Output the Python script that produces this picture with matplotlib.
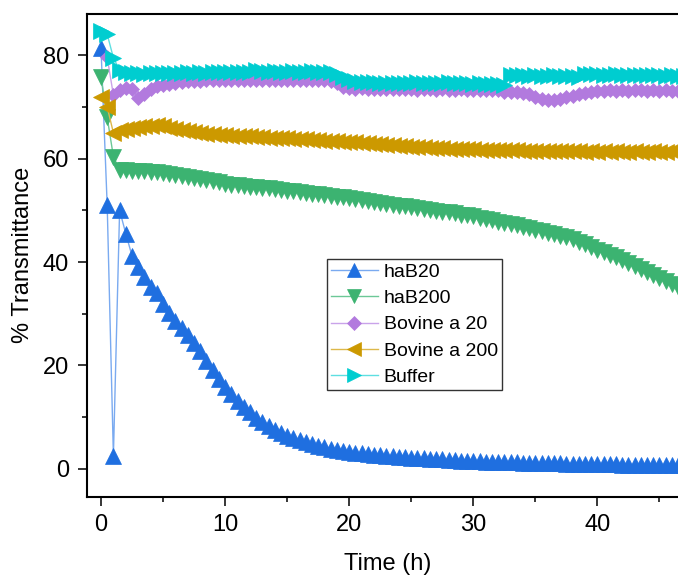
import numpy as np
from matplotlib import pyplot as plt
from matplotlib.ticker import MultipleLocator

# sampling every half hour
time_h = np.arange(0, 47.5, 0.5)

haB20 = [
    81.5, 51.0, 2.5, 50.0, 45.5, 41.2, 39.0, 37.2, 35.1, 34.0,
    31.9, 30.1, 28.5, 27.2, 25.9, 24.3, 22.7, 20.8, 19.1, 17.4,
    15.9, 14.5, 13.2, 12.0, 10.9, 9.9, 9.0, 8.3, 7.6, 7.0,
    6.4, 5.9, 5.5, 5.1, 4.8, 4.5, 4.2, 3.9, 3.7, 3.5,
    3.3, 3.1, 3.0, 2.8, 2.7, 2.6, 2.5, 2.4, 2.3, 2.2,
    2.1, 2.0, 2.0, 1.9, 1.8, 1.8, 1.7, 1.7, 1.6, 1.6,
    1.5, 1.5, 1.4, 1.4, 1.4, 1.3, 1.3, 1.3, 1.2, 1.2,
    1.2, 1.1, 1.1, 1.1, 1.1, 1.0, 1.0, 1.0, 1.0, 0.9,
    0.9, 0.9, 0.9, 0.9, 0.8, 0.8, 0.8, 0.8, 0.8, 0.8,
    0.7, 0.7, 0.7, 0.7, 0.7,
]

haB200 = [
    75.8, 68.0, 60.4, 57.8, 57.8, 57.7, 57.7, 57.6, 57.5, 57.4,
    57.2, 57.0, 56.8, 56.6, 56.4, 56.2, 56.0, 55.8, 55.6, 55.4,
    55.2, 55.0, 54.9, 54.7, 54.6, 54.5, 54.4, 54.3, 54.1, 54.0,
    53.8, 53.7, 53.5, 53.4, 53.2, 53.1, 52.9, 52.8, 52.6, 52.5,
    52.4, 52.2, 52.0, 51.8, 51.6, 51.5, 51.3, 51.1, 50.9, 50.8,
    50.6, 50.4, 50.2, 50.1, 49.9, 49.7, 49.6, 49.4, 49.2, 49.1,
    48.9, 48.6, 48.4, 48.1, 47.8, 47.6, 47.3, 47.1, 46.8, 46.6,
    46.3, 46.0, 45.7, 45.4, 45.1, 44.8, 44.4, 43.9, 43.4, 42.9,
    42.4, 41.9, 41.4, 40.9, 40.4, 39.8, 39.3, 38.7, 38.1, 37.5,
    36.9, 36.3, 35.7, 35.1, 34.5,
]

bovine_a20 = [
    np.nan, 79.6, 72.3, 73.2, 73.6, 73.5, 71.8, 72.5, 73.4, 74.0,
    74.3, 74.5, 74.7, 74.8, 75.0, 75.1, 75.1, 75.2, 75.2, 75.3,
    75.3, 75.3, 75.2, 75.3, 75.3, 75.2, 75.3, 75.3, 75.2, 75.3,
    75.2, 75.3, 75.2, 75.2, 75.3, 75.2, 75.2, 75.1, 74.6, 73.9,
    73.6, 73.5, 73.6, 73.5, 73.4, 73.5, 73.4, 73.4, 73.5, 73.4,
    73.4, 73.3, 73.4, 73.4, 73.3, 73.4, 73.3, 73.3, 73.4, 73.3,
    73.3, 73.3, 73.2, 73.3, 73.2, 73.0, 73.0, 72.9, 72.8, 72.5,
    72.0, 71.6, 71.4, 71.4, 71.6, 71.9, 72.2, 72.5, 72.8, 73.0,
    73.1, 73.1, 73.2, 73.1, 73.2, 73.1, 73.2, 73.2, 73.1, 73.2,
    73.1, 73.2, 73.1, 73.1, 73.2,
]

bovine_a200 = [
    72.0, 70.0, 65.0, 65.5, 65.8, 66.0, 66.2, 66.3, 66.4, 66.5,
    66.3, 66.0, 65.7, 65.5, 65.3, 65.1, 65.0, 64.8, 64.7, 64.6,
    64.5, 64.4, 64.4, 64.3, 64.3, 64.2, 64.2, 64.1, 64.1, 64.0,
    64.0, 63.9, 63.8, 63.8, 63.7, 63.6, 63.5, 63.5, 63.4, 63.3,
    63.3, 63.2, 63.1, 63.0, 62.9, 62.8, 62.7, 62.6, 62.5, 62.4,
    62.3, 62.2, 62.2, 62.1, 62.0, 62.0, 61.9, 61.9, 61.8, 61.8,
    61.8, 61.7, 61.7, 61.7, 61.6, 61.6, 61.6, 61.6, 61.5, 61.5,
    61.5, 61.5, 61.4, 61.5, 61.4, 61.4, 61.4, 61.4, 61.3, 61.4,
    61.3, 61.4, 61.3, 61.4, 61.3, 61.3, 61.4, 61.3, 61.3, 61.4,
    61.3, 61.3, 61.4, 61.3, 61.3,
]

buffer = [
    84.7, 84.1, 79.5, 77.2, 76.8, 76.6, 76.5, 76.4, 76.5, 76.5,
    76.6, 76.5, 76.6, 76.6, 76.7, 76.6, 76.7, 76.6, 76.7, 76.7,
    76.8, 76.7, 76.8, 76.7, 76.8, 77.2, 76.9, 76.8, 76.9, 76.8,
    76.8, 76.9, 76.8, 76.8, 76.9, 76.8, 76.8, 76.7, 76.3, 75.8,
    75.4, 75.1, 74.9, 74.8, 74.8, 74.7, 74.6, 74.7, 74.6, 74.6,
    74.7, 74.8, 74.7, 74.6, 74.6, 74.7, 74.8, 74.7, 74.6, 74.6,
    74.5, 74.6, 74.5, 74.4, 74.4, 74.3, 76.2, 76.1, 76.1, 76.0,
    76.1, 76.0, 76.0, 76.1, 76.0, 76.0, 76.0, 75.9, 76.4, 76.3,
    76.3, 76.2, 76.2, 76.3, 76.2, 76.2, 76.1, 76.2, 76.2, 76.1,
    76.1, 76.0, 76.1, 76.0, 76.0,
]

labels = ['haB20', 'haB200', 'Bovine a 20', 'Bovine a 200', 'Buffer']
colors = ['#1f6fe0', '#3cb371', '#b27ade', '#cc9900', '#00cdd0']
line_colors = ['#7aaaf0', '#6cc897', '#c9a3ea', '#ddb84a', '#5edfe1']
markers = ['^', 'v', 'D', '<', '>']
sizes = [11, 11, 7.5, 11, 11]

plt.rcParams['font.family'] = ['Liberation Sans', 'DejaVu Sans']

fig = plt.figure(figsize=(6.78, 5.76), dpi=100)
ax = fig.add_axes([0.1279, 0.1377, 0.8869, 0.8380])

series = [haB20, haB200, bovine_a20, bovine_a200, buffer]
for y, lab, c, lc, m, s in zip(series, labels, colors, line_colors, markers, sizes):
    ax.plot(time_h, y, color=lc, lw=1.0, marker=m, ms=s,
            markerfacecolor=c, markeredgecolor=c, markeredgewidth=0.5, label=lab)

ax.set_xlim(-1.15, 47.3)
ax.set_ylim(-5.4, 88.0)
ax.xaxis.set_major_locator(MultipleLocator(10))
ax.xaxis.set_minor_locator(MultipleLocator(5))
ax.yaxis.set_major_locator(MultipleLocator(20))
ax.yaxis.set_minor_locator(MultipleLocator(10))

for side in ['left', 'bottom', 'top', 'right']:
    ax.spines[side].set_linewidth(1.5)

ax.tick_params(which='major', direction='out', length=6.7, width=1.1, labelsize=17, pad=6)
ax.tick_params(which='minor', direction='out', length=3.5, width=1.1)

ax.set_xlabel('Time (h)', fontsize=17, labelpad=12)
ax.set_ylabel('% Transmittance', fontsize=17, labelpad=6)

leg = ax.legend(loc='upper left', bbox_to_anchor=(0.40, 0.492), borderaxespad=0,
                fontsize=14, frameon=True, fancybox=False, framealpha=1,
                edgecolor='#333333', handlelength=2.4, handletextpad=0.3,
                labelspacing=0.45, borderpad=0.2, markerscale=0.95)
leg.get_frame().set_linewidth(1.0)

fig.savefig('out.png', dpi=100)
